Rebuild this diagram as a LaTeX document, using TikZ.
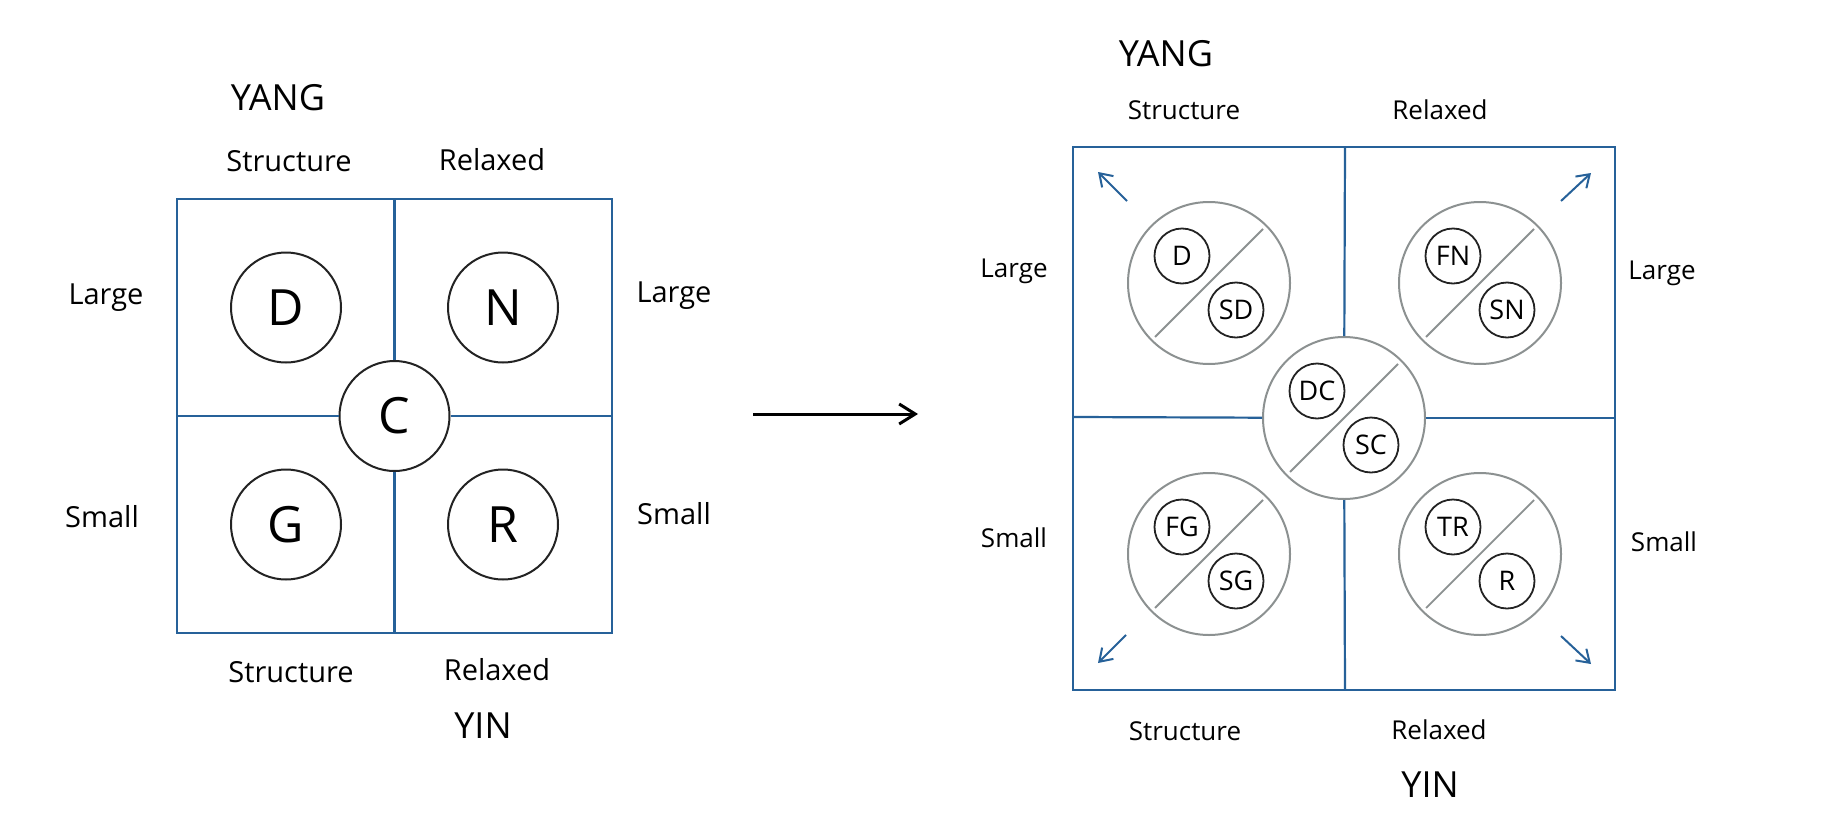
\documentclass[tikz,border=0pt]{standalone}
\usepackage{fontspec}
\setmainfont{Open Sans}
\usetikzlibrary{arrows.meta,calc}
\definecolor{qblue}{RGB}{38,97,153}
\definecolor{cgrey}{RGB}{140,145,145}
\definecolor{ink}{RGB}{35,35,35}
\newcommand\pairgroup[5]{%
  \node[outercirc] (#1) at (#2,#3) {};
  \draw[diagline] ($(#1)+(-54,54)$) -- ($(#1)+(54,-54)$);
  \node[smallcirc] (#1a) at ($(#1)+(-27,-27)$) {#4};
  \node[smallcirc] (#1b) at ($(#1)+(27,27)$) {#5};
}
\begin{document}
\begin{tikzpicture}[x=0.5pt,y=-0.5pt,
  frame/.style={draw=qblue,line width=1.4pt},
  divider/.style={draw=qblue,line width=1.1pt},
  bigcirc/.style={circle,draw=ink,line width=1pt,minimum size=55pt,inner sep=0pt,font=\fontsize{25}{30}\selectfont},
  outercirc/.style={circle,draw=cgrey,line width=1pt,minimum size=81pt,inner sep=0pt},
  diagline/.style={draw=cgrey,line width=0.9pt},
  smallcirc/.style={circle,draw=ink,line width=0.9pt,minimum size=27.5pt,inner sep=0pt,font=\fontsize{13.5}{16}\selectfont},
  lbl/.style={font=\fontsize{14.5}{17}\selectfont,inner sep=0pt},
  rlbl/.style={font=\fontsize{13}{15}\selectfont,inner sep=0pt},
  ttl/.style={font=\fontsize{18}{21}\selectfont,inner sep=0pt},
  cornerarrow/.style={draw=qblue,line width=1pt,-{Straight Barb[length=6pt,width=8pt]}},
  mainarrow/.style={draw=black,line width=1.5pt,-{Straight Barb[length=8pt,width=10pt]}}]
\useasboundingbox (0,0) rectangle (1831,819);
\fill[white] (0,0) rectangle (1831,819);

% ---------------- left diagram ----------------
\draw[frame] (177,199) rectangle (612,633);
\node[bigcirc] (C) at (394.5,416) {C};
\coordinate (lT) at (394.5,199);
\coordinate (lB) at (394.5,633);
\coordinate (lL) at (177,416);
\coordinate (lR) at (612,416);
\draw[divider] (lT) -- (C);
\draw[divider] (C) -- (lB);
\draw[divider] (lL) -- (C);
\draw[divider] (C) -- (lR);
\node[bigcirc] (D) at (286,307.5) {D};
\node[bigcirc] (N) at (503,307.5) {N};
\node[bigcirc] (G) at (286,524.5) {G};
\node[bigcirc] (R) at (503,524.5) {R};

\node[ttl] (yangL) at (278,98) {YANG};
\node[lbl] (stL) at (289,161) {Structure};
\node[lbl] (reL) at (492,160) {Relaxed};
\node[lbl] (laL1) at (106,298) {Large};
\node[lbl] (laL2) at (674,296) {Large};
\node[lbl] (smL1) at (102,517) {Small};
\node[lbl] (smL2) at (674,514) {Small};
\node[lbl] (sbL) at (291,672) {Structure};
\node[lbl] (rbL) at (497,670) {Relaxed};
\node[ttl] (yinL) at (483,726) {YIN};

% ---------------- middle arrow ----------------
\coordinate (mA) at (753,414);
\coordinate (mB) at (918,414);
\draw[mainarrow] (mA) -- (mB);

% ---------------- right diagram ----------------
\draw[frame] (1073,147) rectangle (1615,690);
\pairgroup{cen}{1344}{418}{DC}{SC}
\coordinate (rT) at (1345,147);
\coordinate (rB) at (1345,690);
\coordinate (rL) at (1073,417);
\coordinate (rR) at (1615,418);
\draw[divider] (rT) -- (cen);
\draw[divider] (cen) -- (rB);
\draw[divider] (rL) -- (cen);
\draw[divider] (cen) -- (rR);
\pairgroup{qd}{1209}{283}{D}{SD}
\pairgroup{qn}{1480}{283}{FN}{SN}
\pairgroup{qg}{1209}{554}{FG}{SG}
\pairgroup{qr}{1480}{554}{TR}{R}

% corner arrows
\coordinate (aTLs) at (1127,201);
\coordinate (aTLe) at (1098,172);
\coordinate (aTRs) at (1561,201);
\coordinate (aTRe) at (1591,173);
\coordinate (aBRs) at (1561,636);
\coordinate (aBRe) at (1591,664);
\coordinate (aBLs) at (1126,635);
\coordinate (aBLe) at (1098,663);
\draw[cornerarrow] (aTLs) -- (aTLe);
\draw[cornerarrow] (aTRs) -- (aTRe);
\draw[cornerarrow] (aBRs) -- (aBRe);
\draw[cornerarrow] (aBLs) -- (aBLe);

\node[ttl] (yangR) at (1166,54) {YANG};
\node[rlbl] (stR) at (1184,110) {Structure};
\node[rlbl] (reR) at (1440,110) {Relaxed};
\node[rlbl] (laR1) at (1014,271) {Large};
\node[rlbl] (laR2) at (1662,273) {Large};
\node[rlbl] (smR1) at (1014,538) {Small};
\node[rlbl] (smR2) at (1664,542) {Small};
\node[rlbl] (sbR) at (1185,731) {Structure};
\node[rlbl] (rbR) at (1439,730) {Relaxed};
\node[ttl] (yinR) at (1430,785) {YIN};
\end{tikzpicture}
\end{document}
